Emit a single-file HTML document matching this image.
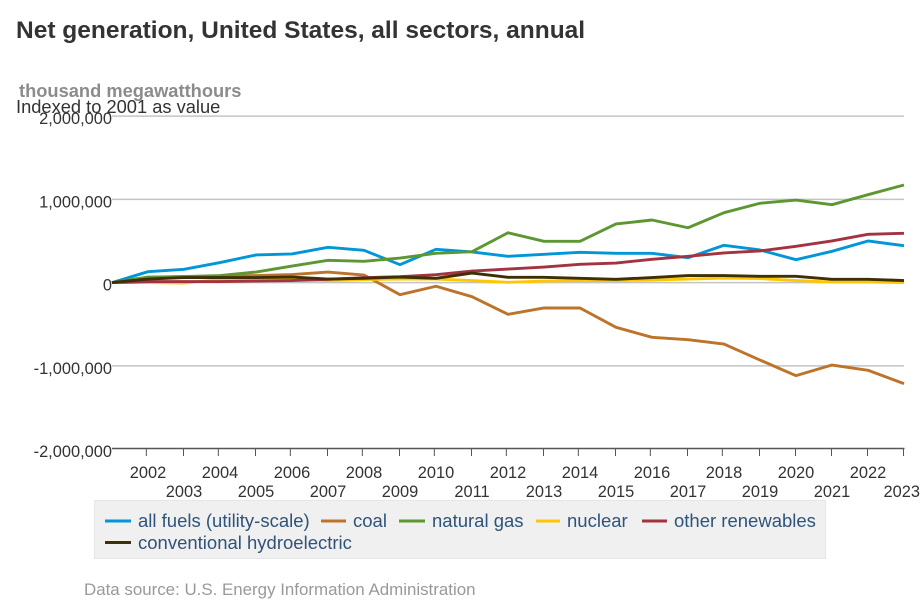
<!DOCTYPE html>
<html lang="en">
<head>
<meta charset="utf-8">
<title>Net generation, United States, all sectors, annual</title>
<style>
html,body{margin:0;padding:0;background:#fff;}
body{width:920px;height:613px;overflow:hidden;}
svg{display:block;font-family:"Liberation Sans",Arial,sans-serif;}
</style>
</head>
<body>
<svg id="chart" width="920" height="613" viewBox="0 0 920 613" xmlns="http://www.w3.org/2000/svg">
  <text x="16" y="38" font-size="24.5" font-weight="bold" fill="#333333">Net generation, United States, all sectors, annual</text>
  <g id="grid"></g>
  <g id="xaxis"></g>
  <g id="series"></g>
  <g id="yaxis"></g>
  <text x="19" y="97" font-size="18.3" font-weight="bold" fill="#8c8c8c">thousand megawatthours</text>
  <text x="16" y="113" font-size="18.3" fill="#333333">Indexed to 2001 as value</text>
  <g>
    <rect x="94.5" y="500.5" width="731" height="58" fill="#f0f0f0" stroke="#e6e6e6" stroke-width="1"></rect>
    <g>
      <line x1="105" x2="131" y1="521" y2="521" stroke="#0096d7" stroke-width="3"></line>
      <text x="138" y="527" font-size="18.5" fill="#2f5379">all fuels (utility-scale)</text>
    </g>
    <g>
      <line x1="321" x2="346" y1="521" y2="521" stroke="#bd732a" stroke-width="3"></line>
      <text x="353" y="527" font-size="18.5" fill="#2f5379">coal</text>
    </g>
    <g>
      <line x1="399" x2="425" y1="521" y2="521" stroke="#5d9732" stroke-width="3"></line>
      <text x="432" y="527" font-size="18.5" fill="#2f5379">natural gas</text>
    </g>
    <g>
      <line x1="536" x2="560" y1="521" y2="521" stroke="#ffc702" stroke-width="3"></line>
      <text x="567" y="527" font-size="18.5" fill="#2f5379">nuclear</text>
    </g>
    <g>
      <line x1="642" x2="667" y1="521" y2="521" stroke="#a33340" stroke-width="3"></line>
      <text x="674" y="527" font-size="18.5" fill="#2f5379">other renewables</text>
    </g>
    <g>
      <line x1="105" x2="131" y1="542.5" y2="542.5" stroke="#3f2f06" stroke-width="3"></line>
      <text x="138" y="549" font-size="18.5" fill="#2f5379">conventional hydroelectric</text>
    </g>
  </g>
  <text x="84" y="595" font-size="16.9" fill="#999999">Data source: U.S. Energy Information Administration</text>
</svg>
<script>
var years = [2001,2002,2003,2004,2005,2006,2007,2008,2009,2010,2011,2012,2013,2014,2015,2016,2017,2018,2019,2020,2021,2022,2023];
var yTicks = [2000000,1000000,0,-1000000,-2000000];
var yTickLabels = ["2,000,000","1,000,000","0","-1,000,000","-2,000,000"];

var allFuels = [0,131000,160000,241000,332000,344000,424000,388000,215000,400000,368000,316000,340000,364000,352000,352000,299000,448000,392000,275000,376000,500000,443000];
var coal = [0,61000,73000,79000,85000,97000,127000,91000,-145000,-44000,-169000,-381000,-305000,-305000,-537000,-657000,-686000,-738000,-930000,-1118000,-990000,-1053000,-1214000];
var naturalGas = [0,67000,73000,85000,127000,199000,268000,256000,295000,352000,371000,599000,496000,496000,704000,752000,659000,840000,953000,992000,936000,1056000,1172000];
var nuclear = [0,1000,-5000,37000,31000,37000,25000,37000,43000,43000,25000,4000,19000,25000,25000,31000,43000,55000,49000,25000,7000,7000,1000];
var otherRenewables = [0,13000,13000,13000,19000,25000,40000,59000,71000,95000,139000,163000,187000,220000,235000,280000,316000,356000,380000,436000,500000,580000,592000];
var hydroelectric = [0,43000,61000,61000,61000,67000,43000,52000,67000,52000,115000,64000,64000,52000,40000,60000,84000,84000,76000,76000,40000,40000,25000];

var NS = "http://www.w3.org/2000/svg";
function xScale(year){ return 112 + (year - 2001) * 36; }
function yScale(value){ return 282.6 - value / 1000000 * 83.25; }
function make(tag, attrs, parent){
  var el = document.createElementNS(NS, tag);
  for (var k in attrs) { el.setAttribute(k, attrs[k]); }
  parent.appendChild(el);
  return el;
}

var gridGroup = document.getElementById("grid");
var yGroup = document.getElementById("yaxis");
yTicks.forEach(function(v, i){
  var yy = yScale(v);
  if (v !== -2000000) {
    var gl = make("line", {x1:112, x2:904, y1:yy, y2:yy, stroke:"#c4c4c4", "stroke-width":1.5}, gridGroup);
    
    
  }
  var lab = make("text", {x:112, y:yy + 8, "text-anchor":"end", "font-size":16.4, fill:"#333333"}, yGroup);
  
  
  lab.textContent = yTickLabels[i];
});

var xGroup = document.getElementById("xaxis");
var baseY = yScale(-2000000) - 0.6;
var axisLine = make("line", {x1:112, x2:904.5, y1:baseY, y2:baseY, stroke:"#555555", "stroke-width":1.5}, xGroup);


years.slice(1).forEach(function(yr){
  var px = xScale(yr);
  var tickX = px - ((yr % 2 === 0 && yr < 2020) ? 1.7 : 0.5);
  var tk = make("line", {x1:tickX, x2:tickX, y1:baseY, y2:baseY + 7.5, stroke:"#555555", "stroke-width":1}, xGroup);
  
  
  var even = yr % 2 === 0;
  var lab = make("text", {x: yr === 2023 ? 920 : px, y: even ? 478 : 497, "text-anchor": yr === 2023 ? "end" : "middle", "font-size":16.4, fill:"#333333"}, xGroup);
  
  
  lab.textContent = String(yr);
});

var seriesGroup = document.getElementById("series");
function drawSeries(values, color, name){
  var pts = values.map(function(v, i){ return xScale(years[i]).toFixed(2) + "," + yScale(v).toFixed(2); }).join(" ");
  var line = make("polyline", {points:pts, fill:"none", stroke:color, "stroke-width":2.9, "stroke-linejoin":"round"}, seriesGroup);
  
  
}
drawSeries(allFuels, "#0096d7", "series-all-fuels");
drawSeries(coal, "#bd732a", "series-coal");
drawSeries(naturalGas, "#5d9732", "series-natural-gas");
drawSeries(nuclear, "#ffc702", "series-nuclear");
drawSeries(otherRenewables, "#a33340", "series-other-renewables");
drawSeries(hydroelectric, "#3f2f06", "series-conventional-hydroelectric");
</script>
</body>
</html>
